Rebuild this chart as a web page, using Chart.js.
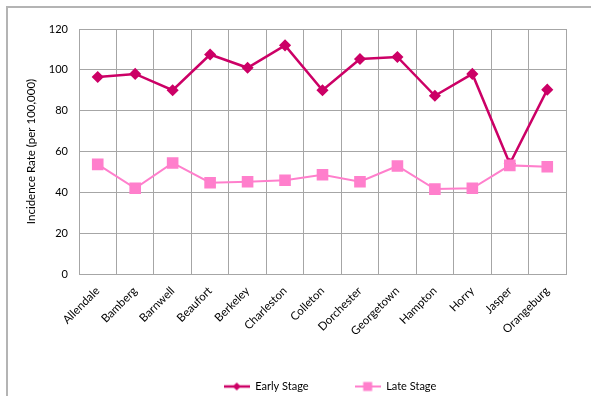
<!DOCTYPE html>
<html>
<head>
<meta charset="utf-8">
<script src="https://cdn.jsdelivr.net/npm/chart.js@4"></script>
<style>
  html, body { margin: 0; padding: 0; background: #fff; }
  #wrap { position: relative; width: 591px; height: 396px; }
</style>
</head>
<body>
<div id="wrap"><canvas id="chart" width="591" height="396"></canvas></div>
<script>
// counties along the x axis
let counties = ["Allendale", "Bamberg", "Barnwell", "Beaufort", "Berkeley", "Charleston",
  "Colleton", "Dorchester", "Georgetown", "Hampton", "Horry", "Jasper", "Orangeburg"];
// incidence rate per 100,000
let earlyStage = [96.5, 98, 90, 107.5, 101, 112, 90, 105.3, 106.3, 87.3, 98, 54, 90.3];
let lateStage = [53.7, 42, 54.4, 44.7, 45.2, 45.9, 48.6, 45.2, 52.9, 41.6, 42, 53.2, 52.5];
let yTicks = [0, 20, 40, 60, 80, 100, 120];

let colorEarly = "#cc0066";
let colorLate = "#ff7fcc";
let fontFamily = "Lato, 'Open Sans', sans-serif";

// little line + marker pictures for the legend
function legendIcon(color, shape) {
    let c = document.createElement("canvas");
    c.width = 26;
    c.height = 12;
    let g = c.getContext("2d");
    g.strokeStyle = color;
    g.fillStyle = color;
    g.lineWidth = shape == "diamond" ? 2.5 : 2;
    g.beginPath();
    g.moveTo(0, 6);
    g.lineTo(26, 6);
    g.stroke();
    g.beginPath();
    if (shape == "diamond") {
        g.moveTo(13, 2); g.lineTo(17, 6); g.lineTo(13, 10); g.lineTo(9, 6);
    } else {
        g.rect(8.5, 1.5, 9, 9);
    }
    g.closePath();
    g.fill();
    return c;
}
let iconEarly = legendIcon(colorEarly, "diamond");
let iconLate = legendIcon(colorLate, "square");

// frame along the top and left, and nudge the legend
let framePlugin = {
    id: "frame",
    afterLayout(chart) {
        let lg = chart.legend;
        lg.left += 43;
        lg.right += 43;
        lg.top -= 4;
        lg.bottom -= 4;
    },
    beforeDraw(chart) {
        let ctx = chart.ctx;
        ctx.save();
        ctx.strokeStyle = "#b4b4b4";
        ctx.lineWidth = 2;
        ctx.beginPath();
        ctx.moveTo(7, 396);
        ctx.lineTo(7, 7);
        ctx.lineTo(591, 7);
        ctx.stroke();
        ctx.restore();
    }
};

let ctx = document.getElementById("chart").getContext("2d");
let chart = new Chart(ctx, {
    type: "line",
    data: {
        labels: counties,
        datasets: [{
            label: "Early Stage",
            data: earlyStage,
            borderColor: colorEarly,
            backgroundColor: colorEarly,
            borderWidth: 2.5,
            pointStyle: "rectRot",
            pointRadius: 4.3,
            pointHoverRadius: 4.3,
            tension: 0,
            order: 1
        },
        {
            label: "Late Stage",
            data: lateStage,
            borderColor: colorLate,
            backgroundColor: colorLate,
            borderWidth: 2,
            pointStyle: "rect",
            pointRadius: 6.8,
            pointHoverRadius: 6.8,
            tension: 0,
            order: 0
        }]
    },
    options: {
        responsive: false,
        animation: false,
        devicePixelRatio: 1,
        layout: { padding: { left: 8, right: 25, top: 29, bottom: 0 } },
        plugins: {
            tooltip: { enabled: false },
            legend: {
                position: "bottom",
                maxHeight: 57,
                labels: {
                    usePointStyle: true,
                    pointStyleWidth: 26,
                    padding: 46,
                    color: "#000",
                    font: { family: fontFamily, size: 11 },
                    generateLabels(chart) {
                        return chart.data.datasets.map((ds, i) => ({
                            text: ds.label,
                            pointStyle: i == 0 ? iconEarly : iconLate,
                            fillStyle: ds.borderColor,
                            strokeStyle: ds.borderColor,
                            lineWidth: 0,
                            datasetIndex: i
                        }));
                    }
                }
            }
        },
        scales: {
            x: {
                offset: true,
                grid: { offset: true, color: "#a6a6a6", lineWidth: 1, drawTicks: false },
                border: { color: "#a6a6a6" },
                ticks: {
                    minRotation: 45,
                    maxRotation: 45,
                    autoSkip: false,
                    padding: 10,
                    color: "#000",
                    font: { family: fontFamily, size: 11.5 }
                },
                afterFit(scale) { scale.height = 65; }
            },
            y: {
                min: 0,
                max: 120,
                afterBuildTicks(scale) { scale.ticks = yTicks.map(v => ({ value: v })); },
                grid: { color: "#a6a6a6", lineWidth: 1, drawTicks: false },
                border: { color: "#a6a6a6" },
                ticks: {
                    padding: 11,
                    color: "#000",
                    font: { family: fontFamily, size: 11 }
                },
                title: {
                    display: true,
                    text: "Incidence Rate (per 100,000)",
                    color: "#000",
                    font: { family: fontFamily, size: 11.5 },
                    padding: { top: 16, bottom: 4 }
                },
                afterFit(scale) { scale.width = 71; }
            }
        }
    },
    plugins: [framePlugin]
});
</script>
</body>
</html>
